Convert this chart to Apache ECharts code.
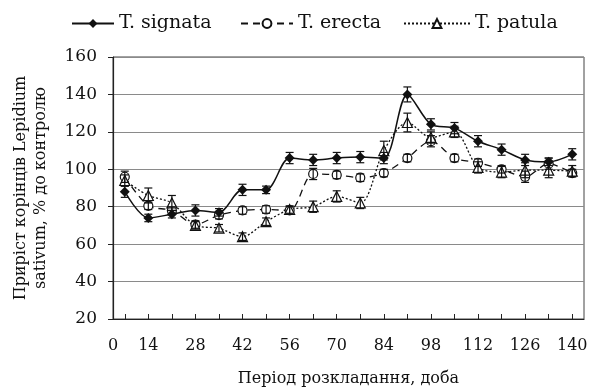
<!DOCTYPE html>
<html lang="uk">
<head>
<meta charset="UTF-8">
<title>Приріст корінців Lepidium sativum</title>
<style>
    * { margin: 0; padding: 0; box-sizing: border-box; }
    html, body { width: 100%; height: 100%; overflow: hidden; background: #fff; }
    #box { width: 591px; height: 388px; }
</style>
</head>
<body>
<div id="box"></div>
<script src="https://cdn.jsdelivr.net/npm/echarts@6/dist/echarts.min.js"></script>
<script>
    // days of sampling
    var days = [7, 14, 21, 28, 35, 42, 49, 56, 63, 70, 77, 84, 91, 98, 105, 112, 119, 126, 133, 140];
    var signata = [88, 74, 76, 78, 77, 89, 89, 106, 105, 106, 106.5, 106, 140, 124, 122, 115, 110.5, 105, 104, 108];
    var erecta = [96, 80.5, 78, 70.5, 75.5, 78, 78.5, 78, 97.5, 97, 95.5, 98, 106, 115, 106, 103.5, 100, 96, 103, 98];
    var patula = [94, 86, 82, 70, 68.5, 64, 72, 78.5, 80, 85.5, 82, 110, 125, 117, 120, 101, 98.5, 99.5, 99.5, 99];
    var signataErr = [3, 2, 2, 3, 2, 3, 2, 3, 3, 3, 3, 3, 4, 3, 3, 3, 3, 3, 2, 3];
    var erectaErr = [3, 2, 2, 2, 2, 2, 2, 2, 3, 2, 2, 2, 2, 3, 2, 2, 2, 3, 3, 2];
    var patulaErr = [3, 4, 4, 2, 2, 2, 2, 2, 3, 3, 3, 5, 5, 3, 3, 3, 3, 4, 4, 3];
    var xLabelValues = [3.5, 14, 28, 42, 56, 70, 84, 98, 112, 126, 140];
    var xLabelTexts = ['0', '14', '28', '42', '56', '70', '84', '98', '112', '126', '140'];
    var seriesNames = ['T. signata', 'T. erecta', 'T. patula'];

    var FONT = 'DejaVu Serif';
    var box = echarts.init(document.getElementById('box'));

    function pairs(vals) {
        var res = [];
        for (var i = 0; i < days.length; i++) res.push([days[i], vals[i]]);
        return res;
    }
    function errData(vals, errs) {
        var res = [];
        for (var i = 0; i < days.length; i++) res.push([days[i], vals[i] - errs[i], vals[i] + errs[i]]);
        return res;
    }
    function renderErr(params, api) {
        var x = api.value(0);
        var lo = api.coord([x, api.value(1)]);
        var hi = api.coord([x, api.value(2)]);
        var w = 4;
        var st = { stroke: '#111', lineWidth: 1.2 };
        return {
            type: 'group',
            children: [
                { type: 'line', shape: { x1: lo[0], y1: lo[1], x2: hi[0], y2: hi[1] }, style: st },
                { type: 'line', shape: { x1: lo[0] - w, y1: lo[1], x2: lo[0] + w, y2: lo[1] }, style: st },
                { type: 'line', shape: { x1: hi[0] - w, y1: hi[1], x2: hi[0] + w, y2: hi[1] }, style: st }
            ]
        };
    }
    // one legend per item so each icon can have its own length
    function legendItem(name, left, width) {
        return {
            left: left,
            top: 9,
            itemWidth: width,
            itemHeight: 11,
            itemGap: 0,
            textStyle: { fontFamily: FONT, fontSize: 19, color: '#111' },
            data: [name]
        };
    }

    var option = {
        animation: false,
        textStyle: { fontFamily: FONT, color: '#111' },
        legend: [
            legendItem(seriesNames[0], 66, 42),
            legendItem(seriesNames[1], 235, 52),
            legendItem(seriesNames[2], 398, 66)
        ],
        grid: {
            left: 113,
            right: 7,
            top: 57,
            bottom: 69,
            outerBoundsMode: 'none',
            show: true,
            borderColor: '#444',
            borderWidth: 1
        },
        xAxis: {
            type: 'value',
            min: 3.5,
            max: 143.5,
            name: 'Період розкладання, доба',
            nameLocation: 'middle',
            nameGap: 52,
            nameTextStyle: { fontFamily: FONT, fontSize: 16, color: '#111' },
            axisLine: { lineStyle: { color: '#222', width: 1.2 } },
            axisTick: { inside: true, length: 5, lineStyle: { color: '#222' }, customValues: days },
            axisLabel: {
                margin: 19,
                fontFamily: FONT,
                fontSize: 16,
                color: '#111',
                customValues: xLabelValues,
                formatter: function (v) {
                    var i = xLabelValues.indexOf(v);
                    return i >= 0 ? xLabelTexts[i] : '';
                }
            },
            splitLine: { show: false }
        },
        yAxis: {
            type: 'value',
            min: 20,
            max: 160,
            interval: 20,
            name: 'Приріст корінців Lepidium\nsativum, % до контролю',
            nameLocation: 'middle',
            nameGap: 62,
            nameTextStyle: { fontFamily: FONT, fontSize: 16, color: '#111', lineHeight: 20 },
            axisLine: { show: true, lineStyle: { color: '#222', width: 1.2 } },
            axisTick: { show: true, length: 5, lineStyle: { color: '#222' } },
            axisLabel: { margin: 16, fontFamily: FONT, fontSize: 17, color: '#111' },
            splitLine: { lineStyle: { color: '#8a8a8a', width: 1.2 } }
        },
        series: [
            {
                name: seriesNames[0],
                type: 'line',
                smooth: 0.3,
                data: pairs(signata),
                symbol: 'diamond',
                symbolSize: 10,
                lineStyle: { color: '#111', width: 1.5, type: 'solid' },
                itemStyle: { color: '#111' },
                z: 4
            },
            {
                name: seriesNames[1],
                type: 'line',
                smooth: 0.3,
                data: pairs(erecta),
                symbol: 'circle',
                symbolSize: 9,
                lineStyle: { color: '#111', width: 1.3, type: [7, 5] },
                itemStyle: { color: '#fff', borderColor: '#111', borderWidth: 1.2 },
                z: 3
            },
            {
                name: seriesNames[2],
                type: 'line',
                smooth: 0.3,
                data: pairs(patula),
                symbol: 'triangle',
                symbolSize: 10,
                lineStyle: { color: '#111', width: 1.3, type: [2, 2] },
                itemStyle: { color: '#fff', borderColor: '#111', borderWidth: 1.2 },
                z: 3
            },
            { type: 'custom', renderItem: renderErr, data: errData(signata, signataErr), z: 5, silent: true },
            { type: 'custom', renderItem: renderErr, data: errData(erecta, erectaErr), z: 5, silent: true },
            { type: 'custom', renderItem: renderErr, data: errData(patula, patulaErr), z: 5, silent: true }
        ]
    };
    box.setOption(option);
</script>
</body>
</html>
